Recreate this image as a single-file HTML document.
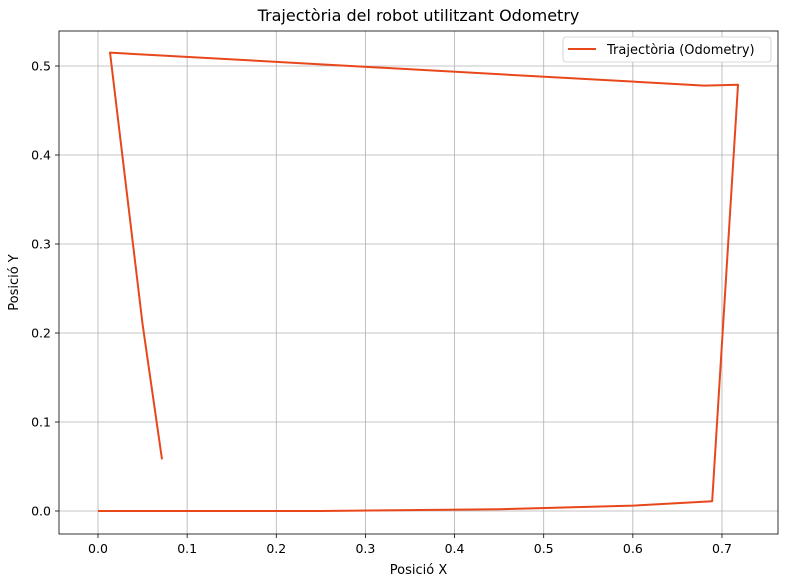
<!DOCTYPE html>
<html><head><meta charset="utf-8"><style>
body{margin:0;background:#fff;}
svg text{font-family:"DejaVu Sans","Liberation Sans",sans-serif;fill:#000;}
</style></head><body>
<svg id="c" width="785" height="580"></svg>
<script>
const xTicks=[0.0,0.1,0.2,0.3,0.4,0.5,0.6,0.7];
const yTicks=[0.0,0.1,0.2,0.3,0.4,0.5];
const pathX=[0.0,0.25,0.45,0.6,0.689,0.718,0.68,0.0135,0.05,0.0718];
const pathY=[0.0,0.0,0.002,0.006,0.011,0.479,0.478,0.515,0.21,0.058];
const L=59,R=778,T=31,B=534;
const sx=v=>98+v*891.4, sy=v=>511-v*890;
const svg=document.getElementById('c');const NS='http://www.w3.org/2000/svg';
function mk(t,a,p){const e=document.createElementNS(NS,t);for(const k in a)e.setAttribute(k,a[k]);(p||svg).appendChild(e);return e;}
xTicks.forEach(v=>{const x=sx(v);
const g=mk('line',{x1:x,x2:x,y1:T,y2:B,stroke:'#b0b0b0','stroke-width':0.8});


mk('line',{x1:x,x2:x,y1:B,y2:B+4,stroke:'#000','stroke-width':0.8});
const t=mk('text',{x:x,y:B+19,'text-anchor':'middle','font-size':12.5});t.textContent=v.toFixed(1);

});
yTicks.forEach(v=>{const y=sy(v);
const g=mk('line',{x1:L,x2:R,y1:y,y2:y,stroke:'#b0b0b0','stroke-width':0.8});


mk('line',{x1:L-4,x2:L,y1:y,y2:y,stroke:'#000','stroke-width':0.8});
const t=mk('text',{x:L-8,y:y+4.5,'text-anchor':'end','font-size':12.5});t.textContent=v.toFixed(1);

});
const pl=mk('polyline',{points:pathX.map((x,i)=>sx(x)+','+sy(pathY[i])).join(' '),fill:'none',stroke:'#e8471c','stroke-width':2,'stroke-linejoin':'round'});


const fr=mk('rect',{x:L,y:T,width:R-L,height:B-T,fill:'none',stroke:'#000','stroke-width':0.8});


const ti=mk('text',{x:(L+R)/2,y:21,'text-anchor':'middle','font-size':16});ti.textContent='Trajectòria del robot utilitzant Odometry';


const xl=mk('text',{x:(L+R)/2,y:574,'text-anchor':'middle','font-size':13});xl.textContent='Posició X';


const yl=mk('text',{x:18,y:(T+B)/2,'text-anchor':'middle','font-size':13,transform:'rotate(-90 18 '+((T+B)/2)+')'});yl.textContent='Posició Y';


const lg=mk('g',{});


mk('rect',{x:563,y:37,width:208,height:25,rx:3,fill:'#fff',stroke:'#ccc','stroke-width':0.8},lg);
mk('line',{x1:568,x2:596,y1:49,y2:49,stroke:'#e8471c','stroke-width':2},lg);
const lt=mk('text',{x:607,y:54,'font-size':13},lg);lt.textContent='Trajectòria (Odometry)';


</script></body></html>
